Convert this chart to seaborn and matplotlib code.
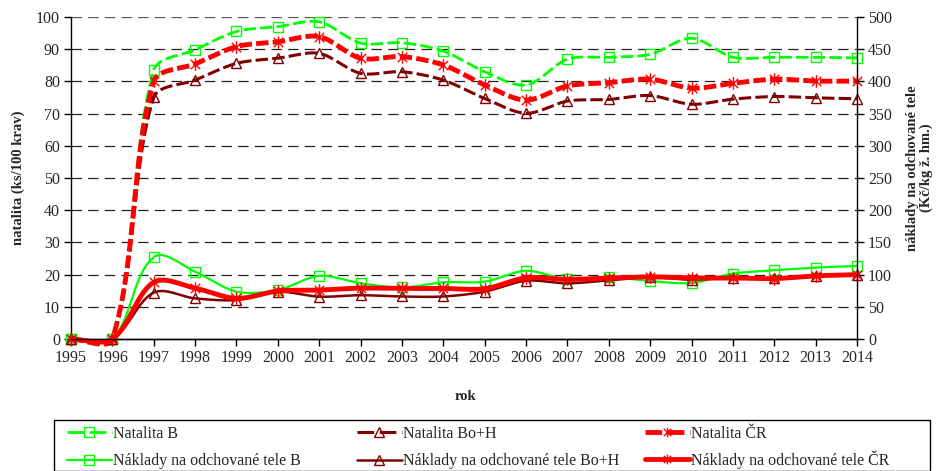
import numpy as np
import pandas as pd
import matplotlib
matplotlib.use("Agg")
import matplotlib.pyplot as plt
import seaborn as sns
from matplotlib.path import Path
from matplotlib.lines import Line2D

# ---- data -------------------------------------------------------------
years = list(range(1995, 2015))
natalita_b = [0, 0, 83.5, 89.8, 95.5, 97.0, 98.5, 91.9, 92.0, 89.4, 83.0, 78.9,
              86.9, 87.5, 88.4, 93.4, 87.5, 87.5, 87.5, 87.3]
natalita_boh = [0, 0, 75.0, 80.4, 85.6, 87.2, 88.7, 82.5, 83.0, 80.4, 74.7, 70.1,
                73.9, 74.4, 75.6, 72.9, 74.5, 75.3, 74.9, 74.6]
natalita_cr = [0, 0, 80.0, 85.4, 90.8, 92.3, 93.9, 87.2, 87.7, 85.1, 78.9, 74.2,
               78.6, 79.6, 80.7, 77.9, 79.4, 80.7, 80.1, 80.1]
naklady_b = [0, 0, 127.0, 104.5, 73.5, 76.0, 98.0, 86.5, 80.0, 88.0, 89.0, 106.0,
             92.7, 96.4, 90.0, 87.0, 101.5, 106.7, 110.8, 113.4]
naklady_boh = [0, 0, 72.0, 63.0, 60.5, 73.5, 65.7, 68.0, 66.0, 66.0, 73.5, 90.5,
               86.5, 91.0, 96.0, 92.0, 95.0, 94.0, 98.0, 99.0]
naklady_cr = [0, 0, 88.0, 79.0, 63.0, 74.5, 76.0, 79.0, 78.5, 78.5, 78.0, 95.0,
              92.5, 94.8, 96.4, 94.8, 94.8, 93.8, 98.0, 100.0]

left_ticks = list(range(0, 101, 10))
right_ticks = list(range(0, 501, 50))

GREEN = "#00FF00"
DARKRED = "#800000"
RED = "#FF0000"

# asterisk marker: vertical bar plus an X
ASTERISK = Path([(0, -1), (0, 1), (-0.75, -0.75), (0.75, 0.75), (-0.75, 0.75), (0.75, -0.75)],
                [Path.MOVETO, Path.LINETO] * 3)

sns.set_theme(style="white")
plt.rcParams["font.family"] = ["Liberation Serif", "DejaVu Serif"]
plt.rcParams["lines.scale_dashes"] = False

W, H = 937, 471
fig = plt.figure(figsize=(W / 100, H / 100), dpi=100)
x0, x1, ytop, ybot = 71, 857, 17, 339
ax = fig.add_axes([x0 / W, 1 - ybot / H, (x1 - x0) / W, (ybot - ytop) / H])
ax2 = ax.twinx()

ax.set_xlim(1995, 2014)
ax.set_ylim(0, 100)
ax2.set_ylim(0, 500)
ax.set_xticks(years)
ax.set_yticks(left_ticks)
ax2.set_yticks(right_ticks)
ax.set_facecolor("none")


def smooth_curve(axis, xs, ys, k=0.3, n=30):
    """Bezier smoothing computed in display space, returned in data units."""
    P = axis.transData.transform(np.column_stack([xs, ys]))
    m = len(P)
    tang = np.zeros_like(P)
    for i in range(m):
        if 0 < i < m - 1:
            v = P[i + 1] - P[i - 1]
        elif i == 0:
            v = P[1] - P[0]
        else:
            v = P[-1] - P[-2]
        nv = np.hypot(*v)
        tang[i] = v / nv if nv > 0 else v
    out = []
    t = np.linspace(0, 1, n)[:, None]
    for i in range(m - 1):
        p0, p3 = P[i], P[i + 1]
        d = np.hypot(*(p3 - p0))
        c1 = p0 + tang[i] * d * k
        c2 = p3 - tang[i + 1] * d * k
        seg = ((1 - t) ** 3) * p0 + 3 * ((1 - t) ** 2) * t * c1 + 3 * (1 - t) * t ** 2 * c2 + t ** 3 * p3
        out.append(seg if i == 0 else seg[1:])
    pts = axis.transData.inverted().transform(np.vstack(out))
    return pd.DataFrame({"x": pts[:, 0], "y": pts[:, 1]})


series = [
    # axis, values, color, width, dashed, marker, marker size
    (ax, natalita_b, GREEN, 2.0, True, "s", 7),
    (ax, natalita_boh, DARKRED, 2.2, True, "^", 7),
    (ax, natalita_cr, RED, 3.5, True, ASTERISK, 9),
    (ax2, naklady_b, GREEN, 1.6, False, "s", 7),
    (ax2, naklady_boh, DARKRED, 1.8, False, "^", 7),
    (ax2, naklady_cr, RED, 3.5, False, ASTERISK, 9),
]
DASH = (0, (9, 3))

for axis, vals, col, lw, dashed, mk, ms in series:
    curve = smooth_curve(axis, years, vals)
    sns.lineplot(data=curve, x="x", y="y", ax=axis, color=col, linewidth=lw,
                 sort=False, estimator=None, clip_on=False,
                 linestyle=DASH if dashed else "-")
    axis.plot(years, vals, linestyle="none", marker=mk, markersize=ms,
              markerfacecolor="none", markeredgecolor=col, markeredgewidth=1.0,
              clip_on=False)

# grid lines
for v in left_ticks[1:]:
    ax.axhline(v, color="#555555" if v == 100 else "#222222", linewidth=0.9,
               linestyle=(0, (7.5, 4.5)), zorder=0)

ax.spines["top"].set_visible(False)
ax2.spines["top"].set_visible(False)
for axis in (ax, ax2):
    for s in ["left", "right", "bottom"]:
        axis.spines[s].set_color("black")
        axis.spines[s].set_linewidth(1.0)
ax2.spines["left"].set_visible(False)
ax.spines["right"].set_visible(False)

ax.tick_params(axis="both", direction="out", length=5, width=1.0, color="black",
               labelsize=11.5, pad=3, left=True, bottom=True)
ax2.tick_params(axis="y", direction="out", length=5, width=1.0, color="black",
                labelsize=11.5, pad=3, right=True)
ax.set_xlabel("")
ax.set_ylabel("")
ax2.set_ylabel("")
ax2.set_xlabel("")

fig.text(18 / W, 1 - 178 / H, "natalita (ks/100 krav)", rotation=90, ha="center",
         va="center", fontsize=10.5, fontweight="bold")
fig.text(920 / W, 1 - 168 / H, "náklady na odchované tele\n(Kč/kg ž. hm.)", rotation=90,
         ha="center", va="center", fontsize=10.5, fontweight="bold", linespacing=1.05)
fig.text(465 / W, 1 - 396 / H, "rok", ha="center", va="center", fontsize=10.5,
         fontweight="bold")

# legend box and entries, three columns of two rows
box = plt.Rectangle((54 / W, 0.0), (930 - 54) / W, (471 - 420) / H, transform=fig.transFigure,
                    facecolor="white", edgecolor="black", linewidth=1.0)
fig.patches.append(box)

columns = [
    (67, 0.7, [("Natalita B", GREEN, 2.0, True, "s"),
               ("Náklady na odchované tele B", GREEN, 1.6, False, "s")]),
    (357, 0.7, [("Natalita Bo+H", DARKRED, 2.2, True, "^"),
                ("Náklady na odchované tele Bo+H", DARKRED, 1.8, False, "^")]),
    (645, 0.52, [("Natalita ČR", RED, 3.5, True, ASTERISK),
                 ("Náklady na odchované tele ČR", RED, 3.5, False, ASTERISK)]),
]
for xpx, spacing, entries in columns:
    handles = [Line2D([], [], color=c, linewidth=lw, linestyle=(0, (12, 4)) if d else "-",
                      marker=mk, markersize=7, markerfacecolor="none", markeredgecolor=c,
                      markeredgewidth=1.0)
               for _, c, lw, d, mk in entries]
    labels = [e[0] for e in entries]
    fig.legend(handles, labels, loc="upper left", bbox_to_anchor=(xpx / W, 1 - 426 / H),
               frameon=False, fontsize=11.5, handlelength=2.8, handletextpad=0.1,
               labelspacing=spacing, borderpad=0.0, borderaxespad=0.0)

fig.savefig("out.png", dpi=100)
